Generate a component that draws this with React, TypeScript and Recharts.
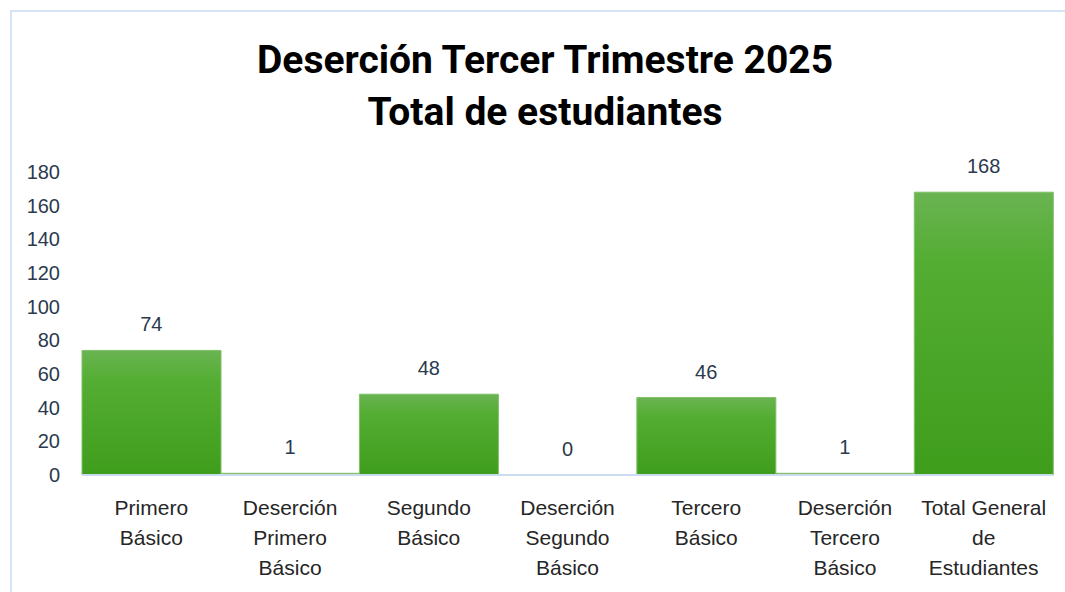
import { ComposedChart, Bar, Scatter, XAxis, YAxis } from 'recharts';

const categories = [
  'Primero Básico',
  'Deserción Primero Básico',
  'Segundo Básico',
  'Deserción Segundo Básico',
  'Tercero Básico',
  'Deserción Tercero Básico',
  'Total General de Estudiantes',
];

// how each category label wraps under the axis
const categoryLines = [
  ['Primero', 'Básico'],
  ['Deserción', 'Primero', 'Básico'],
  ['Segundo', 'Básico'],
  ['Deserción', 'Segundo', 'Básico'],
  ['Tercero', 'Básico'],
  ['Deserción', 'Tercero', 'Básico'],
  ['Total General', 'de', 'Estudiantes'],
];

const students = [74, 1, 48, 0, 46, 1, 168];

const yTicks = [0, 20, 40, 60, 80, 100, 120, 140, 160, 180];

const data = categories.map((name, i) => ({ name, value: students[i] }));

const FONT = '"Liberation Sans", Arial, sans-serif';

const CategoryTick = ({ x, y, index }: any) => {
  const lines = categoryLines[index] || [];
  return (
    <g transform={`translate(${x},${y})`}>
      {lines.map((line, i) => (
        <text
          key={i}
          x={0}
          y={24 + i * 30}
          textAnchor="middle"
          dominantBaseline="central"
          fontFamily={FONT}
          fontSize={21}
          fill="#262626"
        >
          {line}
        </text>
      ))}
    </g>
  );
};

const ValueTick = ({ y, payload }: any) => (
  <text
    x={60}
    y={y}
    textAnchor="end"
    dominantBaseline="central"
    fontFamily={FONT}
    fontSize={20}
    fill="#2b3a4e"
  >
    {payload.value}
  </text>
);

// value labels drawn above each bar (also shows the 0 that has no bar)
const ValueLabel = ({ cx, cy, payload }: any) => (
  <text
    x={cx}
    y={cy - 26}
    textAnchor="middle"
    dominantBaseline="central"
    fontFamily={FONT}
    fontSize={20}
    fill="#2b3a4e"
  >
    {payload.value}
  </text>
);

const App = () => {
  return (
    <div style={{ position: 'absolute', left: 0, top: 0, width: 1065, height: 592, background: '#fff', overflow: 'hidden' }}>
      <div
        style={{
          position: 'absolute',
          left: 10,
          top: 10,
          width: 1100,
          height: 640,
          border: '2px solid #d4e3f6',
          boxSizing: 'border-box',
        }}
      />
      <div
        style={{
          position: 'absolute',
          left: 0,
          width: 1090,
          top: 34,
          textAlign: 'center',
          fontFamily: 'Roboto, sans-serif',
          fontWeight: 700,
          fontSize: 39,
          lineHeight: '52px',
          color: '#000',
        }}
      >
        <div>Deserción Tercer Trimestre 2025</div>
        <div>Total de estudiantes</div>
      </div>
      <div style={{ position: 'absolute', left: 0, top: 0 }}>
        <ComposedChart
          width={1065}
          height={592}
          data={data}
          margin={{ top: 172, right: 12, left: 0, bottom: 0 }}
          barCategoryGap={0}
        >
          <defs>
            <linearGradient id="greenFill" x1="0" y1="0" x2="0" y2="1">
              <stop offset="0%" stopColor="#6ab452" />
              <stop offset="25%" stopColor="#53ad32" />
              <stop offset="100%" stopColor="#3f9d1c" />
            </linearGradient>
          </defs>
          <XAxis
            dataKey="name"
            height={117}
            interval={0}
            tickLine={false}
            axisLine={{ stroke: '#cbdcf0', strokeWidth: 2 }}
            tick={<CategoryTick />}
          />
          <YAxis
            width={82}
            domain={[0, 180]}
            ticks={yTicks}
            axisLine={false}
            tickLine={false}
            tick={<ValueTick />}
          />
          <Bar dataKey="value" fill="url(#greenFill)" stroke="#7fc166" strokeWidth={1} isAnimationActive={false} />
          <Scatter dataKey="value" shape={<ValueLabel />} isAnimationActive={false} />
        </ComposedChart>
      </div>
    </div>
  );
};

export default App;
